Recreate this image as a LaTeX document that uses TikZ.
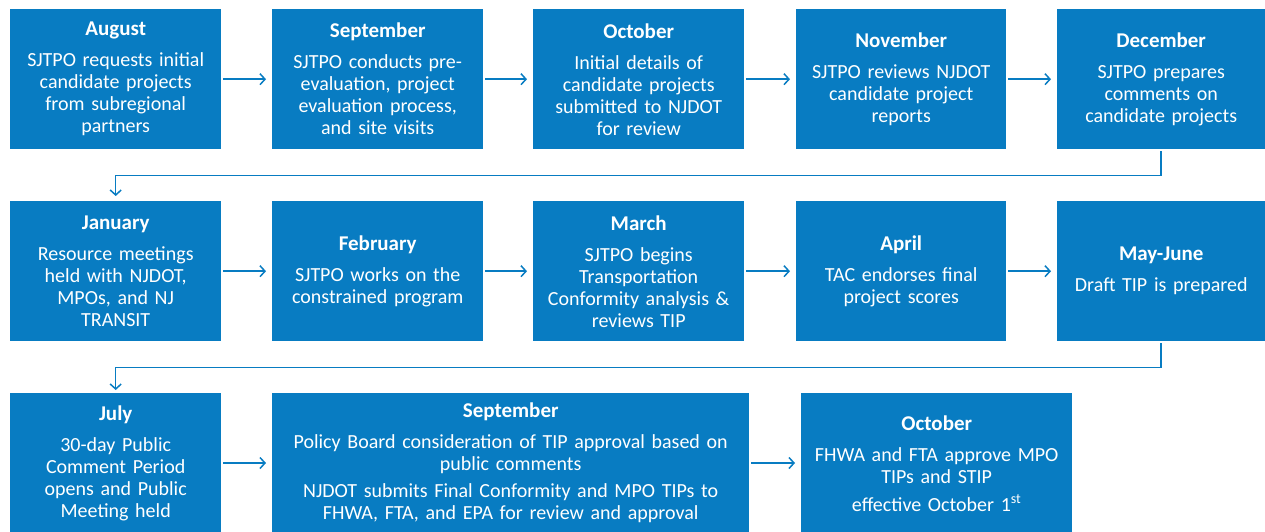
\documentclass[tikz,border=0pt]{standalone}
\usepackage{fontspec}
\setmainfont{Carlito}
\usetikzlibrary{arrows.meta}
\definecolor{sjblue}{RGB}{8,124,194}
\newcommand\hd[1]{{\fontsize{21}{22}\selectfont\bfseries #1}\\[9pt]}
\begin{document}
\begin{tikzpicture}[x=1pt,y=-1pt,
  box/.style={fill=sjblue, text=white, anchor=north west, minimum height=140pt,
    inner sep=0pt, align=center, font=\fontsize{20}{22}\selectfont},
  wbox/.style={box, minimum width=#1, text width=#1-8pt},
  arr/.style={draw=sjblue, line width=1.5pt, -{Straight Barb[length=5pt,width=11pt]},
    shorten <=2pt, shorten >=6pt}]
\useasboundingbox (0,0) rectangle (1265,531);
% Row 1
\node[wbox=211pt] (aug) at (10,9) {\hd{August}SJTPO requests initial\\candidate projects\\from subregional\\partners};
\node[wbox=211pt] (sep) at (272,9) {\hd{September}SJTPO conducts pre-\\evaluation, project\\evaluation process,\\and site visits};
\node[wbox=211pt] (oct) at (533,9) {\hd{October}Initial details of\\candidate projects\\submitted to NJDOT\\for review};
\node[wbox=210pt] (nov) at (796,9) {\hd{November}SJTPO reviews NJDOT\\candidate project\\reports};
\node[wbox=208pt] (dec) at (1057,9) {\hd{December}SJTPO prepares\\comments on\\candidate projects};
% Row 2
\node[wbox=211pt] (jan) at (10,201) {\hd{January}Resource meetings\\held with NJDOT,\\MPOs, and NJ\\TRANSIT};
\node[wbox=211pt] (feb) at (272,201) {\hd{February}SJTPO works on the\\constrained program};
\node[wbox=211pt] (mar) at (533,201) {\hd{March}SJTPO begins\\Transportation\\Conformity analysis \&\\reviews TIP};
\node[wbox=210pt] (apr) at (796,201) {\hd{April}TAC endorses final\\project scores};
\node[wbox=208pt] (may) at (1057,201) {\hd{May-June}Draft TIP is prepared};
% Row 3
\node[wbox=211pt] (jul) at (10,393) {\hd{July}30-day Public\\Comment Period\\opens and Public\\Meeting held};
\node[wbox=477pt] (sep2) at (272,393) {\hd{September}Policy Board consideration of TIP approval based on\\public comments\\[5pt]NJDOT submits Final Conformity and MPO TIPs to\\FHWA, FTA, and EPA for review and approval};
\node[wbox=271pt] (oct2) at (801,393) {\hd{October}FHWA and FTA approve MPO\\TIPs and STIP\\[6pt]effective October 1\textsuperscript{st}};
% Connectors
\draw[arr] (aug) -- (sep);
\draw[arr] (sep) -- (oct);
\draw[arr] (oct) -- (nov);
\draw[arr] (nov) -- (dec);
\draw[arr, shorten >=5pt] (dec.south) -- ++(0,26) -| (jan.north);
\draw[arr] (jan) -- (feb);
\draw[arr] (feb) -- (mar);
\draw[arr] (mar) -- (apr);
\draw[arr] (apr) -- (may);
\draw[arr, shorten >=3pt] (may.south) -- ++(0,26) -| (jul.north);
\draw[arr] (jul.east |- 0,463) -- (sep2.west |- 0,463);
\draw[arr] (sep2.east |- 0,463) -- (oct2.west |- 0,463);
\end{tikzpicture}
\end{document}
